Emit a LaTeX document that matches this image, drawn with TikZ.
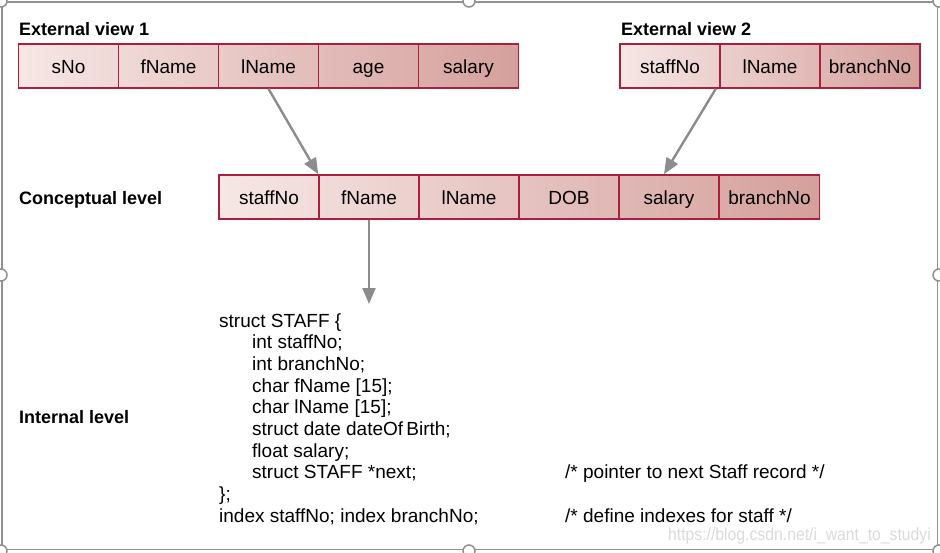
\documentclass[tikz,border=0pt]{standalone}
\usepackage{fontspec}
\setmainfont{Liberation Sans}
\usetikzlibrary{arrows.meta,calc}
\definecolor{cellborder}{RGB}{168,32,60}
\definecolor{cellL}{RGB}{246,231,229}
\definecolor{cellR}{RGB}{213,160,156}
\definecolor{arrowgray}{RGB}{140,140,140}
\definecolor{framegray}{RGB}{145,145,145}
\definecolor{wmgray}{RGB}{218,218,218}
\tikzset{
  cell/.style={draw=cellborder, line width=1.6pt, minimum width=100pt, minimum height=44pt,
    inner sep=0pt, text height=15.4pt, text depth=0pt, font=\fontsize{19}{22}\selectfont},
  lab/.style={anchor=base west, inner sep=0pt, font=\fontsize{18}{21}\selectfont\bfseries},
  code/.style={anchor=base west, inner sep=0pt, font=\fontsize{19}{22}\selectfont},
  arr/.style={draw=arrowgray, line width=2.4pt, -{Triangle[length=16pt,width=13pt]}},
  handle/.style={draw=framegray, line width=1.5pt, fill=white},
}
\begin{document}
\begin{tikzpicture}[x=1pt,y=-1pt]
\useasboundingbox (0,0) rectangle (940,552);
\clip (0,0) rectangle (940,552);
% frame
\draw[framegray, line width=1.5pt] (2,2) rectangle (937.5,549.5);
\foreach \p in {(469,1),(1,275),(939,275),(469,551),(1,1),(939,1),(1,551),(939,551)}
  \draw[handle] \p circle (6);
% row shadings
\shade[left color=cellL, right color=cellR] (18,44) rectangle (519,88);
\shade[left color=cellL, right color=cellR] (620,44) rectangle (920,88);
\shade[left color=cellL, right color=cellR] (219,175) rectangle (820,219);
% external view 1
\node[lab] (lab1) at (19,35) {External view 1};
\node[cell] (e1a) at (68.5,66) {sNo};
\node[cell] (e1b) at (168.5,66) {fName};
\node[cell] (e1c) at (268.5,66) {lName};
\node[cell] (e1d) at (368.5,66) {age};
\node[cell] (e1e) at (468.5,66) {salary};
% external view 2
\node[lab] (lab2) at (621,35) {External view 2};
\node[cell] (e2a) at (670,66) {staffNo};
\node[cell] (e2b) at (770,66) {lName};
\node[cell] (e2c) at (870,66) {branchNo};
% conceptual
\node[lab] (lab3) at (19,204) {Conceptual level};
\node[cell] (c1) at (269,197) {staffNo};
\node[cell] (c2) at (369,197) {fName};
\node[cell] (c3) at (469,197) {lName};
\node[cell] (c4) at (569,197) {DOB};
\node[cell] (c5) at (669,197) {salary};
\node[cell] (c6) at (769.5,197) {branchNo};
% arrows
\coordinate (ienda) at (369,304);
\draw[arr] (e1c.south) -- (c2.north west);
\draw[arr] ($(e2a.south east)+(-5,0)$) -- ($(c5.north)+(-5,0)$);
\draw[arr] (c2.south) -- (ienda);
% internal
\node[lab] (lab4) at (19,423) {Internal level};
\node[code] (l1) at (219,327) {struct STAFF \{};
\node[code] (l2) at (252,348.7) {int staffNo;};
\node[code] (l3) at (252,370.4) {int branchNo;};
\node[code] (l4) at (252,392.1) {char fName [15];};
\node[code] (l5) at (252,413.8) {char lName [15];};
\node[code] (l6) at (252,435.5) {struct date dateOf\,Birth;};
\node[code] (l7) at (252,457.2) {float salary;};
\node[code] (l8) at (252,478.9) {struct STAFF *next;};
\node[code] (l9) at (219,500.6) {\};};
\node[code] (l10) at (219,522.3) {index staffNo; index branchNo;};
\node[code] (cm1) at (565,478.9) {/* pointer to next Staff record */};
\node[code] (cm2) at (565,522.3) {/* define indexes for staff */};
% watermark
\node[anchor=base west, inner sep=0pt, xscale=0.9, text=wmgray,
  font=\fontsize{17.5}{20}\selectfont] (wm) at (668,540) {https://blog.csdn.net/i\_want\_to\_studyi};
\end{tikzpicture}
\end{document}
